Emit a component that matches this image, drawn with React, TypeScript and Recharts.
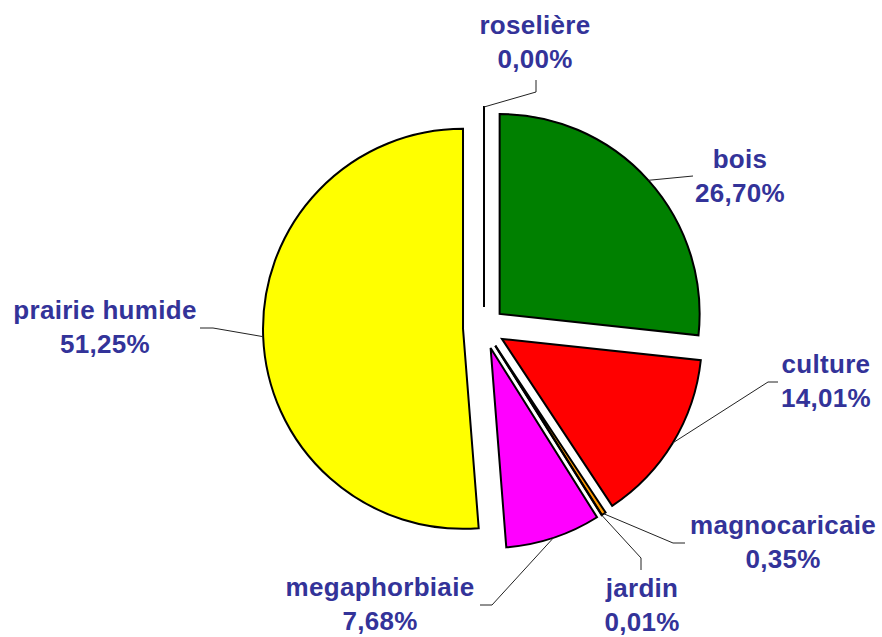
import { PieChart, Pie, Cell } from 'recharts'

// occupation du sol, parts en %
const categories = ['roselière', 'bois', 'culture', 'magnocaricaie', 'jardin', 'megaphorbiaie', 'prairie humide']
const shares = [0.001, 26.7, 14.01, 0.35, 0.01, 7.68, 51.25]
const colors = ['#00FFFF', '#008000', '#FF0000', '#FF9900', '#808080', '#FF00FF', '#FFFF00']

// label placement: text centre x, first baseline y, then leader elbow and end
const labelLayout = [
  { x: 535, y: 34, path: [[536, 92], [536, 80]] },
  { x: 740, y: 168, path: [[693, 176]] },
  { x: 826, y: 373, path: [[768, 382], [778, 382]] },
  { x: 783, y: 534, path: [[673, 543], [685, 543]] },
  { x: 642, y: 597, path: [[641, 558], [641, 570]] },
  { x: 380, y: 596, path: [[492, 605], [480, 605]] },
  { x: 105, y: 319, path: [[213, 328], [200, 328]] },
]

const data = categories.map((name, i) => ({ name, value: shares[i] }))

const W = 882
const H = 637
const CX = 484
const CY = 328
const R = 200
const EXPLODE = 21
const RAD = Math.PI / 180

const total = shares.reduce((a, b) => a + b, 0)
const midAngles: number[] = []
let acc = 0
shares.forEach(v => {
  midAngles.push(90 - (360 * (acc + v / 2)) / total)
  acc += v
})

const fmt = (v: number) => v.toFixed(2).replace('.', ',') + '%'

function makeLabel(slice: number) {
  return (props: any) => {
    if (props.index !== slice) return null
    const { cx, cy, midAngle, outerRadius, name, value } = props
    const sx = cx + outerRadius * Math.cos(-midAngle * RAD)
    const sy = cy + outerRadius * Math.sin(-midAngle * RAD)
    const lay = labelLayout[slice]
    const pts = [[sx, sy], ...lay.path].map(p => p.join(',')).join(' ')
    return (
      <g>
        <polyline points={pts} fill="none" stroke="#222" strokeWidth={1} />
        <text
          x={lay.x}
          y={lay.y}
          textAnchor="middle"
          fill="#333399"
          fontFamily="'Liberation Sans', Arial, sans-serif"
          fontWeight="bold"
          fontSize={26}
          letterSpacing={0.3}
        >
          <tspan x={lay.x} y={lay.y}>{name}</tspan>
          <tspan x={lay.x} y={lay.y + 34}>{fmt(value)}</tspan>
        </text>
      </g>
    )
  }
}

export default function App() {
  return (
    <div style={{ position: 'absolute', left: 0, top: 0, width: W, height: H, background: '#fff' }}>
      <PieChart width={W} height={H} margin={{ top: 0, right: 0, bottom: 0, left: 0 }}>
        {categories.map((_, s) => (
          <Pie
            key={s}
            data={data}
            dataKey="value"
            nameKey="name"
            cx={CX + EXPLODE * Math.cos(midAngles[s] * RAD)}
            cy={CY - EXPLODE * Math.sin(midAngles[s] * RAD)}
            outerRadius={R}
            innerRadius={0}
            startAngle={90}
            endAngle={-270}
            label={makeLabel(s)}
            labelLine={false}
            isAnimationActive={false}
          >
            {data.map((d, i) => (
              <Cell
                key={d.name}
                fill={i === s ? colors[i] : 'none'}
                stroke={i === s ? '#000' : 'none'}
                strokeWidth={2}
              />
            ))}
          </Pie>
        ))}
      </PieChart>
    </div>
  )
}
